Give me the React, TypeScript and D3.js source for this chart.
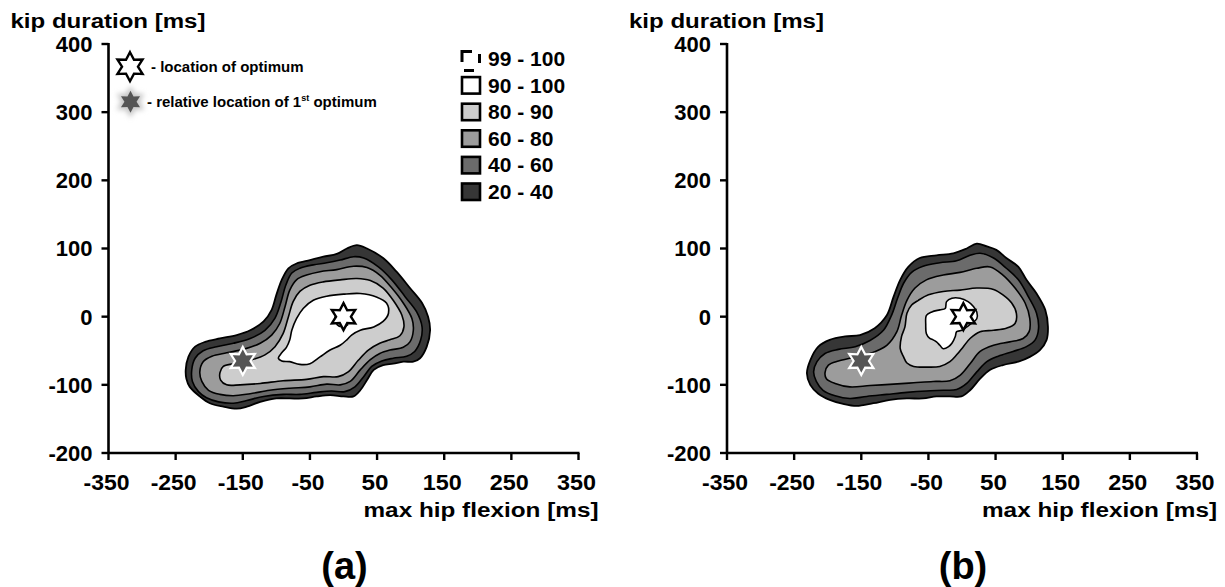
import React from 'react';
import * as d3 from 'd3';

type Pt = [number, number];

// axis ticks (ms)
const xTicks: number[] = [-350, -250, -150, -50, 50, 150, 250, 350];
const yTicks: number[] = [-200, -100, 0, 100, 200, 300, 400];

// contour levels (outer to inner)
const levelNames: string[] = ['20 - 40', '40 - 60', '60 - 80', '80 - 90', '90 - 100'];
const levelFills: string[] = ['#363636', '#6b6b6b', '#9c9c9c', '#cdcdcd', '#ffffff'];
const legendLabels: string[] = ['99 - 100', '90 - 100', '80 - 90', '60 - 80', '40 - 60', '20 - 40'];

// ---- panel (a) contours: [max hip flexion, kip duration] in ms ----
const a20: Pt[] = [[-235,-78],[-231,-59],[-221,-44],[-206,-37],[-184,-32],[-159,-27],[-139,-20],[-119,-7],[-107,10],[-100,32],[-92,54],[-82,71],[-70,78],[-50,83],[-30,88],[-10,92],[5,100],[20,105],[35,100],[59,86],[79,66],[99,42],[117,20],[126,0],[129,-20],[124,-44],[114,-61],[104,-66],[89,-66],[74,-69],[59,-71],[45,-78],[35,-93],[25,-108],[15,-117],[0,-117],[-20,-115],[-40,-117],[-60,-120],[-80,-120],[-100,-120],[-124,-125],[-144,-132],[-159,-135],[-179,-132],[-199,-127],[-214,-117],[-229,-103],[-234,-91]];
const a40: Pt[] = [[-226,-78],[-221,-61],[-209,-50],[-189,-44],[-164,-39],[-139,-32],[-117,-20],[-102,-2],[-93,22],[-86,46],[-77,64],[-65,71],[-45,76],[-25,79],[-5,83],[15,88],[30,86],[52,73],[72,54],[92,29],[109,7],[117,-15],[115,-34],[106,-51],[94,-58],[74,-61],[57,-65],[42,-73],[30,-88],[17,-103],[2,-110],[-18,-109],[-40,-111],[-65,-114],[-90,-114],[-119,-117],[-144,-123],[-164,-127],[-186,-125],[-204,-119],[-216,-110],[-225,-95]];
const a60: Pt[] = [[-214,-81],[-209,-66],[-196,-58],[-174,-53],[-149,-48],[-124,-39],[-107,-27],[-95,-10],[-87,15],[-80,39],[-70,54],[-55,61],[-35,66],[-10,69],[15,74],[35,72],[54,61],[72,42],[89,20],[102,-3],[104,-20],[99,-37],[89,-45],[69,-49],[54,-54],[40,-63],[25,-78],[10,-95],[-5,-100],[-25,-99],[-50,-103],[-80,-105],[-110,-108],[-139,-113],[-164,-116],[-184,-114],[-201,-108],[-211,-95]];
const a80: Pt[] = [[-184,-82],[-179,-73],[-164,-69],[-139,-64],[-117,-56],[-102,-44],[-90,-25],[-82,0],[-75,22],[-65,37],[-50,46],[-30,51],[-5,54],[20,56],[40,53],[59,42],[74,24],[87,2],[90,-15],[84,-28],[69,-34],[54,-39],[37,-49],[22,-64],[7,-81],[-8,-88],[-30,-88],[-55,-92],[-90,-94],[-124,-98],[-154,-100],[-174,-100],[-183,-93]];
const a90: Pt[] = [[-97,-61],[-92,-53],[-85,-45],[-80,-34],[-77,-20],[-70,-3],[-60,12],[-45,24],[-25,30],[0,33],[25,34],[49,29],[64,20],[67,5],[59,-7],[45,-15],[25,-20],[12,-27],[5,-34],[-5,-42],[-20,-49],[-35,-59],[-50,-69],[-65,-70],[-80,-66],[-92,-65]];
const a99: Pt[] = [[-9,5],[-3,13],[6,11],[12,3],[9,-9],[0,-15],[-9,-12],[-13,-3]];

// ---- panel (b) contours ----
const b20: Pt[] = [[-231,-83],[-226,-64],[-214,-44],[-197,-34],[-174,-29],[-152,-27],[-130,-17],[-112,2],[-102,29],[-92,54],[-80,73],[-63,86],[-38,90],[-13,93],[7,100],[22,107],[37,103],[51,98],[66,86],[84,73],[96,54],[111,34],[124,10],[128,-15],[126,-34],[116,-49],[101,-59],[84,-66],[61,-71],[42,-78],[27,-91],[12,-108],[-1,-117],[-18,-117],[-38,-117],[-58,-120],[-82,-120],[-107,-122],[-132,-127],[-157,-131],[-177,-128],[-197,-122],[-214,-113],[-226,-100]];
const b40: Pt[] = [[-221,-81],[-216,-66],[-204,-54],[-184,-48],[-159,-44],[-137,-35],[-117,-20],[-105,2],[-96,27],[-87,49],[-75,65],[-58,74],[-33,79],[-8,82],[12,90],[27,93],[47,86],[66,71],[84,54],[99,29],[111,5],[114,-17],[109,-34],[96,-44],[76,-51],[54,-58],[37,-66],[22,-81],[7,-98],[-8,-107],[-28,-108],[-53,-109],[-82,-111],[-112,-114],[-142,-117],[-167,-120],[-189,-116],[-207,-108],[-217,-95]];
const b60: Pt[] = [[-204,-82],[-199,-71],[-184,-65],[-162,-60],[-137,-54],[-112,-42],[-97,-22],[-90,2],[-82,24],[-70,42],[-53,54],[-28,61],[-3,65],[22,71],[42,73],[61,61],[79,42],[94,20],[101,-3],[100,-22],[91,-32],[71,-37],[47,-42],[27,-51],[12,-69],[-3,-86],[-18,-94],[-43,-95],[-72,-97],[-102,-99],[-137,-101],[-167,-103],[-189,-98],[-202,-91]];
const b80: Pt[] = [[-87,-59],[-92,-47],[-90,-29],[-85,-15],[-82,5],[-75,17],[-65,24],[-50,32],[-28,37],[-3,39],[22,42],[47,40],[61,32],[74,20],[81,5],[79,-10],[66,-17],[47,-20],[27,-22],[12,-32],[2,-44],[-8,-56],[-18,-66],[-33,-73],[-53,-74],[-72,-73],[-82,-68]];
const b90: Pt[] = [[-53,-25],[-54,-12],[-53,2],[-45,7],[-33,10],[-25,12],[-23,22],[-15,27],[-3,27],[9,22],[17,15],[22,7],[22,-3],[14,-10],[7,-15],[0,-20],[-8,-22],[-10,-29],[-15,-39],[-20,-44],[-28,-47],[-33,-42],[-38,-37],[-43,-34],[-48,-32]];

// optimum locations
const optimumA: Pt = [0, 0];
const optimumB: Pt = [2, 0];
const firstOptimum: Pt = [-150, -65];

const FONT = '"Liberation Sans", Arial, Helvetica, sans-serif';

function starPath(cx: number, cy: number, R: number, ratio = 0.55): string {
  const pts: string[] = [];
  for (let i = 0; i < 12; i++) {
    const a = (-90 + i * 30) * Math.PI / 180;
    const r = i % 2 === 0 ? R : R * ratio;
    pts.push(`${(cx + r * Math.cos(a)).toFixed(2)},${(cy + r * Math.sin(a)).toFixed(2)}`);
  }
  return 'M' + pts.join('L') + 'Z';
}

interface PanelProps {
  x0: number;
  label: string;
  contours: Pt[][];
  top?: Pt[];
  optimum: Pt;
  legend?: boolean;
}

function Panel({ x0, label, contours, top, optimum, legend }: PanelProps) {
  const x = d3.scaleLinear().domain([-350, 350]).range([x0, x0 + 470]);
  const y = d3.scaleLinear().domain([-200, 400]).range([453, 44]);
  const line = d3.line<Pt>().x(d => x(d[0])).y(d => y(d[1])).curve(d3.curveCatmullRomClosed.alpha(0.5));
  const axX = x(-350);
  const axY = y(-200);
  return (
    <g fontFamily={FONT} fontWeight="bold" fill="#000">
      {/* contours */}
      {contours.map((c, i) => (
        <path key={i} d={line(c) || ''} fill={levelFills[i]} stroke="#000" strokeWidth={i === 0 ? 1.8 : 1.6} strokeLinejoin="round" />
      ))}
      {top && <path d={line(top) || ''} fill="none" stroke="#000" strokeWidth={1.8} strokeDasharray="5 3" />}
      {/* stars */}
      <path d={starPath(x(firstOptimum[0]), y(firstOptimum[1]), 14)} fill="#555" stroke="#fff" strokeWidth={2.2} strokeLinejoin="miter" />
      <path d={starPath(x(optimum[0]), y(optimum[1]), 13.5)} fill="#fff" stroke="#000" strokeWidth={2.4} strokeLinejoin="miter" />
      {/* axes */}
      <line x1={axX} x2={axX} y1={y(400) - 1} y2={axY} stroke="#000" strokeWidth={2.6} />
      <line x1={axX} x2={x(350) + 1} y1={axY} y2={axY} stroke="#000" strokeWidth={2.6} />
      {yTicks.map(t => (
        <g key={'y' + t}>
          <line x1={axX - 7} x2={axX} y1={y(t)} y2={y(t)} stroke="#000" strokeWidth={2.4} />
          <text x={axX - 16} y={y(t)} dy="0.36em" textAnchor="end" fontSize={22}>{t}</text>
        </g>
      ))}
      {xTicks.map(t => (
        <g key={'x' + t}>
          <line x1={x(t)} x2={x(t)} y1={axY} y2={axY + 7} stroke="#000" strokeWidth={2.4} />
          <text x={x(t) - 2} y={490} textAnchor="middle" fontSize={22} textLength={t < 0 ? (Math.abs(t) < 100 ? 33 : 46) : (t < 100 ? 27 : 39)} lengthAdjust="spacingAndGlyphs">{t}</text>
        </g>
      ))}
      <text x={x0 - 98} y={28} fontSize={20} textLength={195} lengthAdjust="spacingAndGlyphs">kip duration [ms]</text>
      <text x={x0 + 255} y={517} fontSize={20} textLength={235} lengthAdjust="spacingAndGlyphs">max hip flexion [ms]</text>
      <text x={x0 + 236} y={579} fontSize={38} textAnchor="middle">{label}</text>
      {legend && (
        <g>
          <path d={starPath(130, 66.7, 14.5, 0.55)} fill="#fff" stroke="#000" strokeWidth={2.4} />
          <text x={151} y={71.5} fontSize={15}>- location of optimum</text>
          <path d={starPath(130.5, 101.7, 16, 0.6)} fill="#c8c8c8" filter="url(#glow)" />
          <path d={starPath(130.5, 101.7, 11, 0.55)} fill="#555" />
          <text x={147} y={106.5} fontSize={15}>
            - relative location of 1<tspan fontSize={9} dy={-6}>st</tspan><tspan dy={6}> optimum</tspan>
          </text>
          {legendLabels.map((lab, i) => {
            const base = 66 + i * 26.6;
            return (
              <g key={lab}>
                {i === 0 ? (
                  <g fill="none" stroke="#000" strokeWidth={3}>
                    <path d={`M462,${base - 4} V${base - 14.5} H472`} />
                    <path d={`M479.5,${base - 12} V${base - 3}`} />
                    <path d={`M464,${base + 4.5} H474`} />
                  </g>
                ) : (
                  <rect x={462} y={base - 15.5} width={18} height={16.5} fill={levelFills[5 - i]} stroke="#000" strokeWidth={2.6} />
                )}
                <text x={488} y={base} fontSize={21}>{lab}</text>
              </g>
            );
          })}
        </g>
      )}
    </g>
  );
}

export default function App() {
  return (
    <svg width={1225} height={587} style={{ position: 'absolute', left: 0, top: 0, background: '#fff' }}>
      <defs>
        <filter id="glow" x="-50%" y="-50%" width="200%" height="200%">
          <feGaussianBlur stdDeviation="2.5" />
        </filter>
      </defs>
      <rect width={1225} height={587} fill="#fff" />
      <Panel x0={108.5} label="(a)" contours={[a20, a40, a60, a80, a90]} top={a99} optimum={optimumA} legend />
      <Panel x0={727} label="(b)" contours={[b20, b40, b60, b80, b90]} optimum={optimumB} />
    </svg>
  );
}
